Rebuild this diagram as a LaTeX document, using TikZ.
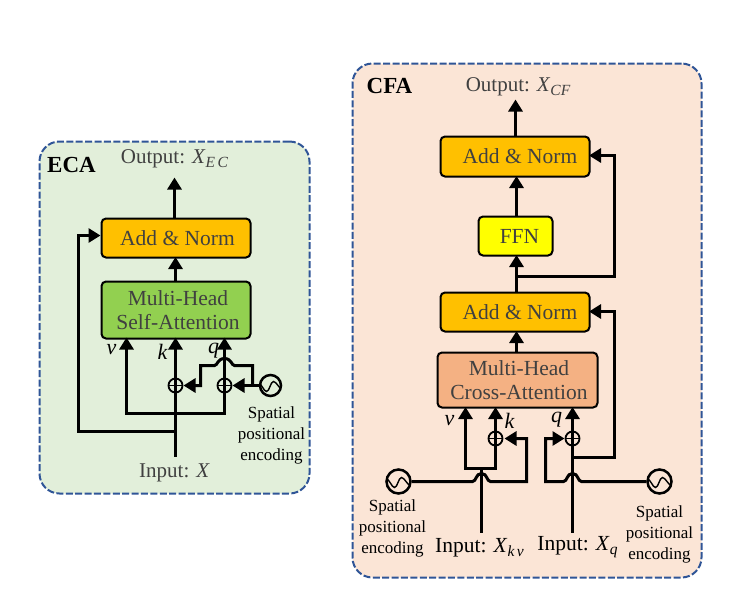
\documentclass[tikz,border=0pt]{standalone}
\usepackage{fontspec}
\setmainfont{Liberation Serif}
\usetikzlibrary{arrows.meta,calc}
\definecolor{ecabg}{HTML}{E2EFDA}
\definecolor{cfabg}{HTML}{FBE5D6}
\definecolor{panelline}{HTML}{2F5597}
\definecolor{orangebox}{HTML}{FFC000}
\definecolor{greenbox}{HTML}{92D050}
\definecolor{peachbox}{HTML}{F4B183}
\definecolor{yellowbox}{HTML}{FFFF00}
\definecolor{inktext}{HTML}{404040}
\tikzset{
  x=1pt,y=-1pt,
  panel/.style={draw=panelline,line width=2pt,dash pattern=on 7pt off 2.4pt,rounded corners=20pt,inner sep=0pt,anchor=north west},
  blockbox/.style={draw=black,line width=2pt,rounded corners=4.5pt,inner sep=0pt,text=inktext,font=\fontsize{21.5}{25}\selectfont,align=center,anchor=north west},
  wire/.style={line width=3pt,draw=black,line join=miter},
  arrowwire/.style={wire,-{Triangle[length=12pt,width=14pt]}},
  plusnode/.style={circle,draw=black,line width=1.8pt,minimum size=14pt,inner sep=0pt,
    path picture={\draw[line width=1.8pt] (path picture bounding box.west) -- (path picture bounding box.east);
                  \draw[line width=1.8pt] (path picture bounding box.north) -- (path picture bounding box.south);}},
  wavenode/.style={circle,draw=black,line width=2.5pt,inner sep=0pt,
    path picture={\draw[line width=1.4pt] ($(path picture bounding box.center)+(-13,-3)$)
       .. controls +(4,0) and +(-3,0) .. ++(9,9) .. controls +(3,0) and +(-3,0) .. ++(7,-10)
       .. controls +(3,0) and +(-3,0) .. ++(9,8);}},
  plain/.style={inner sep=0pt,text=inktext,font=\fontsize{21}{25}\selectfont},
  inputlabel/.style={inner sep=0pt,text=black,font=\fontsize{21.5}{25}\selectfont},
  spatial/.style={inner sep=0pt,text=black,font=\fontsize{17}{21.3}\selectfont,align=center},
  headline/.style={inner sep=0pt,text=black,font=\fontsize{23}{27}\selectfont\bfseries},
  portlabel/.style={inner sep=0pt,text=black,font=\fontsize{22}{26}\selectfont\itshape},
}
\newcommand{\subs}[1]{\raisebox{-4pt}{\fontsize{15.5}{17}\selectfont\itshape #1}}
\begin{document}
\begin{tikzpicture}
\useasboundingbox (0.5,0.5) rectangle (730.5,590.5);
% panels
\node[panel,fill=ecabg,minimum width=270pt,minimum height=352pt] (ecapanel) at (39,141) {};
\node[panel,fill=cfabg,minimum width=349pt,minimum height=514pt] (cfapanel) at (352,63) {};
\node[headline] (ecatitle) at (72,165) {ECA};
\node[headline] (cfatitle) at (390,86) {CFA};

% ===== ECA =====
\node[blockbox,fill=orangebox,minimum width=149pt,minimum height=39pt] (eadd) at (101,218) {\hspace*{3pt}Add \& Norm};
\node[blockbox,fill=greenbox,minimum width=149pt,minimum height=57pt] (emh) at (101,281) {\hspace*{4pt}Multi-Head\\[-1pt]\hspace*{4pt}Self-Attention};
\node[plain] (eout) at (175,159) {Output: \textit{X}\subs{E\,C}};
\node[plain] (ein) at (175,473) {Input: \textit{X}};
\coordinate (eoutend) at (175,178);
\coordinate (einend) at (176,457);
\node[plusnode] (ep1) at (176,386) {};
\node[plusnode] (ep2) at (225,386) {};
\node[wavenode,minimum size=21pt] (ewave) at (271,386) {};
\node[spatial] (espat) at (272,436) {Spatial\\positional\\encoding};
\node[portlabel] (ev) at (112,350) {v};
\node[portlabel] (ek) at (163,352) {k};
\node[portlabel] (eq) at (214,351) {q};

\draw[arrowwire] (175,218) -- (eoutend);
\draw[arrowwire] (176,281) -- (176,257.5);
\draw[arrowwire] (einend) -- (176,338);
\coordinate (ejoin) at (176,432);
\draw[arrowwire] (ejoin) -- (79,432) |- (101,236);
\draw[arrowwire] (176,414) -| (127,338);
\draw[arrowwire] (176,414) -| (225,338);
\draw[arrowwire] (ewave.west) -- (233,386);
\coordinate (ebusr) at (253,386);
\coordinate (ebusl) at (201,386);
\draw[wire,-{Triangle[length=12pt,width=14pt]}] (ebusr) -- (253,366) -- (235,366)
   .. controls (232,366) and (232,359) .. (225,359) .. controls (218,359) and (218,366) .. (215,366)
   -- (201,366) -- (ebusl) -- (184,386);

% ===== CFA =====
\node[blockbox,fill=orangebox,minimum width=149pt,minimum height=40pt] (cadd1) at (440,136) {\hspace*{10pt}Add \& Norm};
\node[blockbox,fill=yellowbox,minimum width=74pt,minimum height=39pt] (ffn) at (478,216) {\hspace*{8pt}FFN};
\node[blockbox,fill=orangebox,minimum width=149pt,minimum height=39pt] (cadd2) at (440,292) {\hspace*{10pt}Add \& Norm};
\node[blockbox,fill=peachbox,minimum width=160pt,minimum height=55pt] (cmh) at (437,352) {\hspace*{3pt}Multi-Head\\[-1pt]\hspace*{3pt}Cross-Attention};
\node[plain] (cout) at (518.5,87) {Output: \textit{X}\subs{CF}};
\coordinate (coutend) at (516,100);
\node[inputlabel] (ckv) at (480,548) {Input: \textit{X}\subs{k\,v}};
\node[inputlabel] (cq) at (578,548) {Input: \textit{X}\subs{q}};
\coordinate (ckvstart) at (482,533);
\coordinate (cqstart) at (573,533);
\node[plusnode] (cp1) at (496,439) {};
\node[plusnode] (cp2) at (573,439) {};
\node[wavenode,minimum size=24pt] (cwl) at (399,482) {};
\node[wavenode,minimum size=24pt] (cwr) at (660,482) {};
\node[spatial] (cspl) at (393,529) {Spatial\\positional\\encoding};
\node[spatial] (cspr) at (660,535) {Spatial\\positional\\encoding};
\node[portlabel] (cv) at (450,421) {v};
\node[portlabel] (ck) at (510,421) {k};
\node[portlabel] (cql) at (557,420) {q};

\draw[arrowwire] (516,136) -- (coutend);
\draw[arrowwire] (517,216) -- (517,176.5);
\draw[arrowwire] (517,292) -- (517,255.5);
\draw[arrowwire] (517,352) -- (517,331.5);
\draw[arrowwire] (517,277) -- (615,277) |- (589.5,156);
\draw[arrowwire] (573,458) -- (615,458) |- (589.5,312);
\draw[arrowwire] (cqstart) -- (573,407.5);
\draw[wire] (ckvstart) -- (482,469);
\draw[arrowwire] (482,469) -| (466,407.5);
\draw[arrowwire] (482,469) -| (496,407.5);
\draw[wire,-{Triangle[length=12pt,width=14pt]}] (cwl.east) -- (473,482)
   .. controls (477,482) and (476,474) .. (482,474) .. controls (488,474) and (487,482) .. (491,482)
   -- (527,482) -- (527,439) -- (505,439);
\draw[wire,-{Triangle[length=12pt,width=14pt]}] (cwr.west) -- (582,482)
   .. controls (578,482) and (579,474) .. (573,474) .. controls (567,474) and (568,482) .. (564,482)
   -- (546,482) -- (546,439) -- (565,439);
\end{tikzpicture}
\end{document}
